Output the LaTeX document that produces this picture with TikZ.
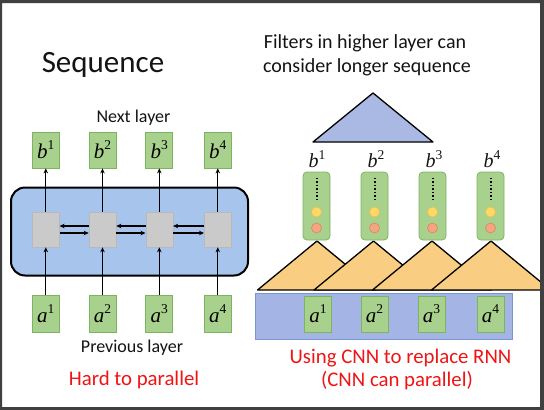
\documentclass[tikz,border=0pt]{standalone}
\usepackage{fontspec}
\setmainfont{Carlito}
\newfontfamily\symfont{Liberation Serif}
\usetikzlibrary{arrows.meta}
\definecolor{framegray}{RGB}{64,64,64}
\definecolor{gfill}{RGB}{169,209,142}
\definecolor{gdraw}{RGB}{125,180,95}
\definecolor{rnnblue}{RGB}{166,196,236}
\definecolor{cellgray}{RGB}{202,202,202}
\definecolor{celldraw}{RGB}{185,185,185}
\definecolor{topblue}{RGB}{170,184,228}
\definecolor{triorange}{RGB}{250,206,130}
\definecolor{baseblue}{RGB}{164,180,228}
\definecolor{baseedge}{RGB}{120,150,210}
\definecolor{dotyellow}{RGB}{255,217,102}
\definecolor{yedge}{RGB}{240,190,80}
\definecolor{dotsalmon}{RGB}{244,165,130}
\definecolor{sedge}{RGB}{225,130,95}
\definecolor{redtext}{RGB}{240,20,20}
\definecolor{txt}{RGB}{20,20,20}
\newcommand{\vlab}[2]{{\symfont\itshape #1}\raisebox{0.42em}{\fontsize{13.5}{14}\symfont #2}}
\tikzset{
  vecbox/.style={draw=gdraw, fill=gfill, line width=0.8pt, minimum width=27pt, minimum height=36pt, inner sep=0pt, font=\fontsize{21}{24}\selectfont},
  cell/.style={draw=celldraw, fill=cellgray, line width=0.6pt, minimum width=27pt, minimum height=35pt, inner sep=0pt},
  tallbox/.style={draw=gdraw, fill=gfill, line width=0.8pt, rounded corners=4pt, minimum width=27pt, minimum height=68pt, inner sep=0pt},
  arr/.style={-{Stealth[length=5pt,width=4.5pt]}, line width=1.1pt, black},
  lbl/.style={anchor=base, inner sep=0pt, text=txt},
  tri/.style={draw=black, line width=1.3pt, fill=triorange, line join=round},
  neuron/.style={circle, minimum size=10pt, inner sep=0pt, line width=0.6pt},
}
\begin{document}
\begin{tikzpicture}[x=1pt,y=-1pt]
\useasboundingbox (0,0) rectangle (544,410);
\fill[white] (0,0) rectangle (544,410);

% ---------- left: RNN ----------
\node[lbl, font=\fontsize{31}{36}\selectfont] (title) at (103,72) {Sequence};
\node[lbl, font=\fontsize{18}{22}\selectfont] (next) at (133.5,122.3) {Next layer};
\node[lbl, font=\fontsize{18}{22}\selectfont] (prev) at (132,352.3) {Previous layer};
\node[lbl, font=\fontsize{20.8}{24}\selectfont, text=redtext] (hard) at (134,385.7) {Hard to parallel};

\node[draw=black, line width=2pt, fill=rnnblue, rounded corners=14pt,
      minimum width=237pt, minimum height=88pt, inner sep=0pt] (rnn) at (129.5,231.5) {};

\foreach \i/\x in {1/45.8,2/102.5,3/159.3,4/217.8} {
  \node[vecbox] (b\i) at (\x,150) {\vlab{b}{\i}};
  \node[cell] (c\i) at (\x,229.5) {};
  \node[vecbox, minimum height=37pt] (a\i) at (\x,313.5) {\vlab{a}{\i}};
  \draw[arr] (a\i) -- (c\i);
  \draw[arr] (c\i) -- (b\i);
}
\foreach \i/\j in {1/2,2/3,3/4} {
  \draw[arr] ([yshift=3.5pt]c\j.west) -- ([yshift=3.5pt]c\i.east);
  \draw[arr] ([yshift=-3.5pt]c\i.east) -- ([yshift=-3.5pt]c\j.west);
}

% ---------- right: CNN ----------
\node[lbl, font=\fontsize{20}{24}\selectfont] (filt1) at (365,48.3) {Filters in higher layer can};
\node[lbl, font=\fontsize{20}{24}\selectfont] (filt2) at (367,72.7) {consider longer sequence};

\draw[tri, fill=topblue] (373,93) -- (433,142) -- (313,142) -- cycle;

\begin{scope}
  \clip (2,3) rectangle (540,407);
  \foreach \x in {317,373.5,432,491}
    \draw[tri] (\x,241) -- ++(59.5,49) -- ++(-119,0) -- cycle;
\end{scope}

\node[draw=baseedge, fill=baseblue, line width=0.8pt, minimum width=257pt,
      minimum height=46pt, inner sep=0pt] (inbar) at (383.5,316) {};

\foreach \i/\x in {1/318,2/374.5,3/431.5,4/490.5}
  \node[vecbox] (ra\i) at (\x,314) {\vlab{a}{\i}};

\foreach \i/\x/\lx in {1/316.5/317,2/374.5/376,3/432.5/434,4/490.5/492} {
  \node[lbl, font=\fontsize{20}{24}\selectfont] (rb\i) at (\lx,167.7) {\vlab{b}{\i}};
  \node[tallbox] (t\i) at (\x,206) {};
  \draw[line width=2pt, dash pattern=on 1.6pt off 1.9pt] ([yshift=-6pt]t\i.north) -- ++(0,24);
  \node[neuron, fill=dotyellow, draw=yedge] (y\i) at (\x,212) {};
  \node[neuron, fill=dotsalmon, draw=sedge] (s\i) at (\x,228) {};
}

\node[lbl, font=\fontsize{20.8}{24}\selectfont, text=redtext] (using) at (400.5,363.3) {Using CNN to replace RNN};
\node[lbl, font=\fontsize{20.8}{24}\selectfont, text=redtext] (cnnpar) at (397,386) {(CNN can parallel)};

% ---------- frame ----------
\fill[framegray, even odd rule] (0,0) rectangle (544,410) (2,3) rectangle (540,407);
\end{tikzpicture}
\end{document}
